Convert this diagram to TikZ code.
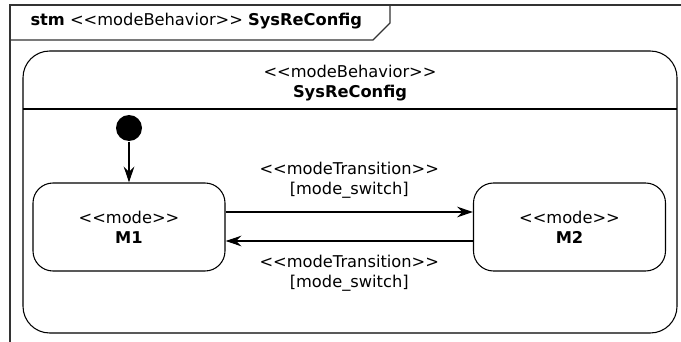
\documentclass[tikz,border=0pt]{standalone}
\usepackage{fontspec}
\setmainfont{DejaVu Sans}[Ligatures=TeXOff]
\usetikzlibrary{arrows.meta}

\tikzset{
  texto/.style={font=\fontsize{12.2}{15}\selectfont, align=center, inner sep=0pt},
  modo/.style={texto, draw, rounded corners=15pt, minimum width=144pt, minimum height=66pt},
  seta/.style={-{Stealth[length=12pt, width=8pt, inset=4pt]}},
  moldura/.style={draw=black!80, line width=0.8pt}
}

\begin{document}
\begin{tikzpicture}[x=0.75pt, y=-0.75pt, line width=0.8pt]
    \useasboundingbox (0,0) rectangle (681,342);

    % Moldura do diagrama (stm)
    \draw[moldura] (681,5) -- (10,5) -- (10,342);
    \draw[moldura] (10,40) -- (373,40) -- (390,23) -- (390,5);
    \node[texto, anchor=west] (cab) at (30,21)
      {\textbf{stm} <<modeBehavior>> \textbf{SysReConfig}};

    % Estado composto
    \draw (23,51) [rounded corners=20pt] rectangle (677,333);
    \draw (23,109) -- (677,109);
    \node[texto] (sys) at (350,83) {<<modeBehavior>>\\ \textbf{SysReConfig}};

    % Modos
    \node[fill, circle, minimum size=19.5pt, inner sep=0pt] (ini) at (129,128) {};
    \node[modo] (m1) at (129,227) {<<mode>>\\ \textbf{M1}};
    \node[modo] (m2) at (569.5,227) {<<mode>>\\ \textbf{M2}};

    % Transicoes
    \draw[seta] (ini) -- (m1);
    \draw[seta] ([yshift=11.25pt]m1.east) -- ([yshift=11.25pt]m2.west)
      node[texto, midway, above=10pt] (t1) {<<modeTransition>>\\ {[mode\_switch]}};
    \draw[seta] ([yshift=-10.5pt]m2.west) -- ([yshift=-10.5pt]m1.east)
      node[texto, midway, below=10pt] (t2) {<<modeTransition>>\\ {[mode\_switch]}};
  \end{tikzpicture}
\end{document}
